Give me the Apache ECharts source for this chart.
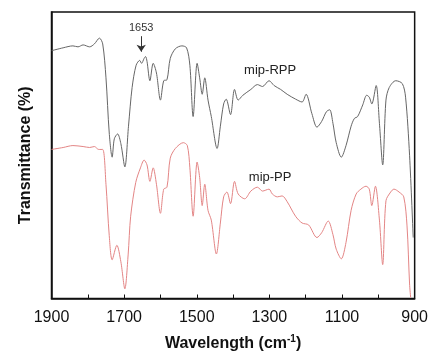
<!DOCTYPE html>
<html>
<head>
<meta charset="utf-8">
<script src="https://cdn.jsdelivr.net/npm/echarts@6/dist/echarts.min.js"></script>
<style>
  html, body { margin: 0; padding: 0; background: #fff; }
  #chart { width: 431px; height: 357px; }
</style>
</head>
<body>
<div id="chart"></div>
<script>
  // wavenumbers (cm-1) and transmittance in arbitrary units
  var rppWave = [1900, 1868, 1841, 1827, 1813, 1795, 1782, 1768, 1759, 1750, 1741, 1733, 1727, 1718, 1709, 1698, 1688, 1678, 1667, 1657, 1652, 1645, 1641, 1637, 1629, 1620, 1611, 1600, 1591, 1582, 1573, 1559, 1541, 1528, 1519, 1510, 1499, 1492, 1485, 1478, 1469, 1460, 1444, 1435, 1426, 1419, 1407, 1396, 1386, 1373, 1351, 1333, 1319, 1301, 1287, 1269, 1251, 1228, 1210, 1199, 1183, 1169, 1156, 1143, 1134, 1125, 1116, 1102, 1089, 1075, 1066, 1057, 1043, 1032, 1025, 1018, 1006, 997, 988, 979, 970, 952, 934, 925, 914, 904];
  var rppValue = [256, 259, 261, 260, 262, 260, 263, 269, 263, 228, 171, 146, 165, 170, 160, 136, 178, 218, 241, 246, 243, 248, 250, 245, 225, 243, 233, 205, 225, 226, 248, 258, 261, 259, 241, 188, 243, 228, 211, 228, 205, 188, 155, 178, 201, 206, 190, 216, 205, 210, 216, 221, 219, 225, 220, 216, 211, 206, 203, 211, 191, 177, 183, 193, 195, 181, 161, 146, 158, 178, 186, 188, 200, 210, 208, 201, 220, 181, 138, 205, 218, 225, 222, 208, 148, 63];

  var ppWave = [1900, 1868, 1841, 1813, 1795, 1782, 1770, 1759, 1750, 1741, 1733, 1720, 1709, 1698, 1689, 1682, 1668, 1655, 1645, 1637, 1629, 1620, 1611, 1600, 1591, 1582, 1573, 1559, 1537, 1526, 1519, 1510, 1499, 1492, 1485, 1478, 1469, 1460, 1446, 1435, 1426, 1417, 1407, 1396, 1386, 1368, 1351, 1333, 1319, 1301, 1292, 1278, 1265, 1251, 1228, 1210, 1192, 1169, 1156, 1138, 1125, 1116, 1102, 1089, 1075, 1061, 1048, 1034, 1025, 1018, 1008, 997, 988, 979, 966, 957, 943, 930, 921, 914, 911];
  var ppValue = [154, 156, 158, 157, 156, 157, 154, 154, 118, 65, 40, 55, 38, 10, 45, 85, 120, 135, 143, 138, 121, 135, 118, 88, 113, 115, 145, 155, 161, 158, 135, 85, 141, 125, 96, 118, 91, 81, 46, 78, 105, 110, 98, 121, 108, 103, 111, 115, 111, 113, 108, 105, 106, 100, 85, 78, 76, 63, 68, 80, 66, 51, 41, 58, 91, 108, 113, 116, 113, 96, 116, 81, 35, 101, 110, 113, 110, 105, 75, 15, 1];

  var xTicks = [1900, 1700, 1500, 1300, 1100, 900];

  function pairs(xs, ys) {
    return xs.map(function (x, i) { return [x, ys[i]]; });
  }

  var chart = echarts.init(document.getElementById('chart'));
  var font = 'Liberation Sans, Arial, sans-serif';

  var option = {
    animation: false,
    grid: {
      left: 51.5, right: 12, top: 12, bottom: 49,
      show: true, borderColor: '#111', borderWidth: 1.5, backgroundColor: '#fff'
    },
    xAxis: {
      type: 'value', inverse: true, min: 900, max: 1900, interval: 100,
      name: '{a|Wavelength (cm}{b|-1}{a|)}',
      nameLocation: 'middle', nameGap: 36,
      nameTextStyle: {
        rich: {
          a: { fontFamily: font, fontSize: 16, fontWeight: 'bold', color: '#111' },
          b: { fontFamily: font, fontSize: 10, fontWeight: 'bold', color: '#111', padding: [0, 0, 9, 0] }
        }
      },
      axisLine: { lineStyle: { color: '#111', width: 1.5 } },
      axisTick: { inside: true, length: 4, lineStyle: { color: '#111' } },
      splitLine: { show: false },
      axisLabel: {
        showMinLabel: true, showMaxLabel: true, margin: 11,
        fontFamily: font, fontSize: 16, color: '#111',
        formatter: function (v) { return xTicks.indexOf(v) >= 0 ? String(v) : ''; }
      }
    },
    yAxis: {
      type: 'value', min: 0, max: 296,
      name: 'Transmittance (%)', nameLocation: 'middle', nameGap: 18,
      nameTextStyle: { fontFamily: font, fontSize: 16, fontWeight: 'bold', color: '#111' },
      axisLine: { show: true, lineStyle: { color: '#111', width: 1.5 } },
      axisTick: { show: false },
      axisLabel: { show: false },
      splitLine: { show: false }
    },
    series: [
      {
        name: 'mip-RPP', type: 'line', data: pairs(rppWave, rppValue),
        showSymbol: false, smooth: 0.3,
        lineStyle: { color: '#666', width: 1 },
        markLine: {
          silent: true, symbol: ['none', 'arrow'], symbolSize: 7,
          lineStyle: { color: '#333', width: 1, type: 'solid' },
          label: { show: true, position: 'start', distance: 3, formatter: '1653', fontFamily: font, fontSize: 11, color: '#333' },
          data: [[{ coord: [1653, 271] }, { coord: [1653, 255] }]]
        },
        markPoint: {
          symbol: 'circle', symbolSize: 0, silent: true,
          label: { show: true, formatter: 'mip-RPP', fontFamily: font, fontSize: 13, color: '#222' },
          data: [{ coord: [1298, 236] }]
        }
      },
      {
        name: 'mip-PP', type: 'line', data: pairs(ppWave, ppValue),
        showSymbol: false, smooth: 0.3,
        lineStyle: { color: '#e38585', width: 1 },
        markPoint: {
          symbol: 'circle', symbolSize: 0, silent: true,
          label: { show: true, formatter: 'mip-PP', fontFamily: font, fontSize: 13, color: '#222' },
          data: [{ coord: [1298, 125] }]
        }
      }
    ]
  };

  chart.setOption(option);
</script>
</body>
</html>
